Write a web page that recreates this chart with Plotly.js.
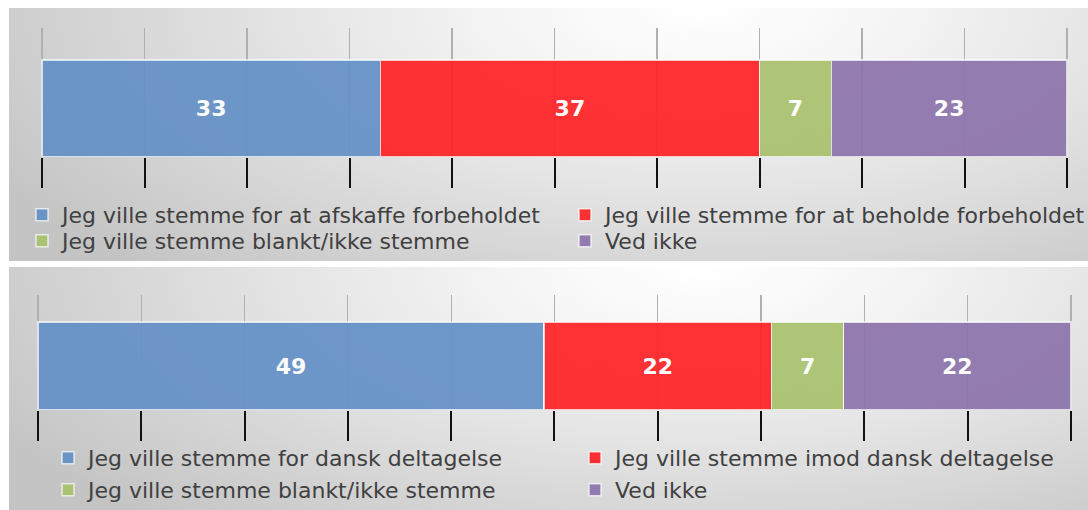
<!DOCTYPE html>
<html>
<head>
<meta charset="utf-8">
<script src="https://cdn.plot.ly/plotly-3.0.1.min.js"></script>
<style>
  html, body { margin: 0; padding: 0; background: #ffffff; overflow: hidden; }
  #wrap { position: relative; width: 1088px; height: 510px; overflow: hidden; }
  .panel { position: absolute; left: 9px; width: 1079px;
    background: radial-gradient(ellipse 75% 140% at 64% 0%, #ffffff 0%, #f6f6f6 22%, #e2e2e2 55%, #c4c4c4 100%); }
  #bg1 { top: 8px; height: 253px; }
  #bg2 { top: 267px; height: 243px; }
  #chart { position: absolute; left: 0; top: 0; width: 1088px; height: 510px; }
</style>
</head>
<body>
<div id="wrap">
  <div class="panel" id="bg1"></div>
  <div class="panel" id="bg2"></div>
  <div id="chart"></div>
</div>
<script>
// ---- data ----
const colors = ['#6591C7', '#FF2326', '#A9C26F', '#8D74AC'];

const namesTop = [
  'Jeg ville stemme for at afskaffe forbeholdet',
  'Jeg ville stemme for at beholde forbeholdet',
  'Jeg ville stemme blankt/ikke stemme',
  'Ved ikke'
];
const valuesTop = [33, 37, 7, 23];

const namesBottom = [
  'Jeg ville stemme for dansk deltagelse',
  'Jeg ville stemme imod dansk deltagelse',
  'Jeg ville stemme blankt/ikke stemme',
  'Ved ikke'
];
const valuesBottom = [49, 22, 7, 22];

const W = 1088, H = 510;
const legendFont = { family: 'DejaVu Sans, sans-serif', size: 22, color: '#404040' };
const labelFont = { family: 'DejaVu Sans, sans-serif', size: 22, color: '#ffffff', weight: 'bold' };

function px2x(p) { return p / W; }
function px2y(p) { return 1 - p / H; }

// legend slot positions (pixels): [left, centerY]
const legendSlotsTop = [[22, 215], [565, 215], [22, 241], [565, 241]];
const legendSlotsBottom = [[48, 458], [575, 458], [48, 490], [575, 490]];

const traces = [];
const legends = {};
let legendCount = 0;
function addBars(names, values, xa, ya, slots) {
  names.forEach((n, i) => {
    legendCount += 1;
    const key = legendCount === 1 ? 'legend' : 'legend' + legendCount;
    legends[key] = {
      orientation: 'h', x: px2x(slots[i][0]), xanchor: 'left',
      y: px2y(slots[i][1]), yanchor: 'middle',
      font: legendFont, bgcolor: 'rgba(0,0,0,0)', borderwidth: 0,
      itemclick: false, itemdoubleclick: false
    };
    traces.push({
      type: 'bar', orientation: 'h',
      x: [values[i]], y: [0], name: n,
      xaxis: xa, yaxis: ya, width: 1,
      marker: { color: colors[i], line: { color: 'rgba(255,255,255,0.75)', width: 1.5 } },
      opacity: 0.93,
      text: [String(values[i])], textposition: 'inside', insidetextanchor: 'middle',
      textfont: labelFont, constraintext: 'none',
      legend: key,
      hoverinfo: 'skip'
    });
  });
}
addBars(namesTop, valuesTop, 'x', 'y', legendSlotsTop);
addBars(namesBottom, valuesBottom, 'x2', 'y2', legendSlotsBottom);

const pad = 0.1;
const xCommon = {
  range: [-pad, 100 + pad], dtick: 10, tick0: 0, tickmode: 'linear',
  showgrid: true, gridcolor: '#b0b0b0', gridwidth: 1.2,
  zeroline: false, showline: false,
  ticks: 'outside', ticklen: 30, tickwidth: 2, tickcolor: '#111111',
  showticklabels: false, fixedrange: true
};
const yCommon = { showgrid: false, zeroline: false, showticklabels: false, ticks: '', fixedrange: true };

function xDomain(p0, p100) {
  const s = (p100 - p0) / 100;
  return [px2x(p0 - pad * s), px2x(p100 + pad * s)];
}

const layout = Object.assign({
  width: W, height: H,
  margin: { l: 0, r: 0, t: 0, b: 0, autoexpand: false },
  paper_bgcolor: 'rgba(0,0,0,0)', plot_bgcolor: 'rgba(0,0,0,0)',
  barmode: 'stack', showlegend: true,
  xaxis: Object.assign({}, xCommon, { domain: xDomain(42, 1067), anchor: 'y' }),
  yaxis: Object.assign({}, yCommon, { domain: [px2y(157), px2y(28)], range: [-0.5, 0.83], anchor: 'x' }),
  xaxis2: Object.assign({}, xCommon, { domain: xDomain(38, 1071), anchor: 'y2' }),
  yaxis2: Object.assign({}, yCommon, { domain: [px2y(410), px2y(295)], range: [-0.5, 0.807], anchor: 'x2' })
}, legends);

Plotly.newPlot('chart', traces, layout, { staticPlot: true, displayModeBar: false });
</script>
</body>
</html>
